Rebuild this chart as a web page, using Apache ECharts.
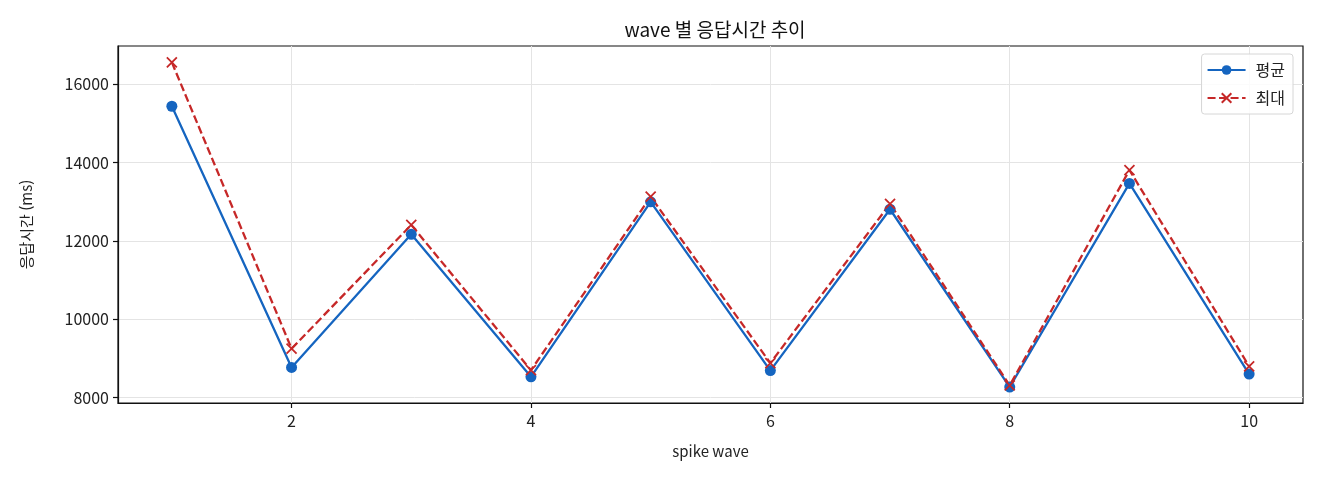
<!DOCTYPE html>
<html lang="ko">
<head>
<meta charset="UTF-8">
<title>wave 별 응답시간 추이</title>
<script src="https://cdn.jsdelivr.net/npm/echarts@6.0.0/dist/echarts.min.js"></script>
<style>
  html, body { margin: 0; padding: 0; background: #fff; }
  #chart { width: 1320px; height: 480px; }
</style>
</head>
<body>
<div id="chart"></div>
<script>
// 데이터
var waves = [1, 2, 3, 4, 5, 6, 7, 8, 9, 10];
var avgMs = [15440, 8770, 12170, 8530, 13000, 8690, 12810, 8270, 13470, 8600];
var maxMs = [16560, 9250, 12410, 8700, 13130, 8880, 12950, 8310, 13810, 8800];
var xTicks = [2, 4, 6, 8, 10];
var yTicks = [8000, 10000, 12000, 14000, 16000];

var FONT = '"Noto Sans CJK KR", "Noto Sans", sans-serif';
var BLUE = '#1565c0';
var RED = '#c62828';

function pairs(ys) {
    return waves.map(function (x, i) { return [x, ys[i]]; });
}

var chart = echarts.init(document.getElementById('chart'));

var option = {
    animation: false,
    textStyle: { fontFamily: FONT, color: '#222' },
    title: {
        text: 'wave 별 응답시간 추이',
        left: 710, top: 15, textAlign: 'center',
        textStyle: { fontFamily: FONT, fontSize: 19, fontWeight: 'normal', color: '#111' }
    },
    grid: {
        left: 118, right: 17, top: 46, bottom: 77,
        show: true, borderColor: '#111', borderWidth: 1.2, backgroundColor: 'transparent'
    },
    legend: {
        right: 27, top: 54,
        orient: 'vertical',
        padding: [8, 8, 8, 5],
        itemGap: 12,
        itemWidth: 38, itemHeight: 12,
        borderColor: '#d6d6d6', borderWidth: 1, borderRadius: 3,
        backgroundColor: 'rgba(255,255,255,0.85)',
        textStyle: { fontFamily: FONT, fontSize: 16, color: '#222', padding: [0, 0, 0, 5] },
        data: ['평균', '최대']
    },
    xAxis: {
        type: 'value',
        min: 0.55, max: 10.45,
        name: 'spike wave', nameLocation: 'middle', nameGap: 41,
        nameTextStyle: { fontFamily: FONT, fontSize: 15, color: '#222' },
        axisLine: { show: true, lineStyle: { color: '#111', width: 1.2 } },
        axisTick: {
            show: true, inside: false, length: 5,
            customValues: xTicks, lineStyle: { color: '#111', width: 1.2 }
        },
        axisLabel: { customValues: xTicks, fontSize: 16, color: '#222', margin: 10 },
        splitLine: { show: true, lineStyle: { color: '#e4e4e4', width: 1 } }
    },
    yAxis: {
        type: 'value',
        min: 7862, max: 16979,
        name: '응답시간 (ms)', nameLocation: 'middle', nameGap: 84,
        nameTextStyle: { fontFamily: FONT, fontSize: 15, color: '#222' },
        axisLine: { show: true, lineStyle: { color: '#111', width: 1.2 } },
        axisTick: {
            show: true, inside: false, length: 5,
            customValues: yTicks, lineStyle: { color: '#111', width: 1.2 }
        },
        axisLabel: {
            customValues: yTicks, fontSize: 16, color: '#222', margin: 9,
            formatter: function (v) { return String(v); }
        },
        splitLine: { show: true, lineStyle: { color: '#e4e4e4', width: 1 } }
    },
    series: [
        {
            name: '평균',
            type: 'line',
            data: pairs(avgMs),
            symbol: 'circle', symbolSize: 11,
            lineStyle: { color: BLUE, width: 2.3 },
            itemStyle: { color: BLUE, borderWidth: 0 }
        },
        {
            name: '최대',
            type: 'line',
            data: pairs(maxMs),
            symbol: 'path://M0,0L10,10M10,0L0,10', symbolSize: 10,
            lineStyle: { color: RED, width: 2.3, type: [8, 3.5] },
            itemStyle: { color: RED, borderColor: RED, borderWidth: 1.8 }
        }
    ]
};

chart.setOption(option);
</script>
</body>
</html>
